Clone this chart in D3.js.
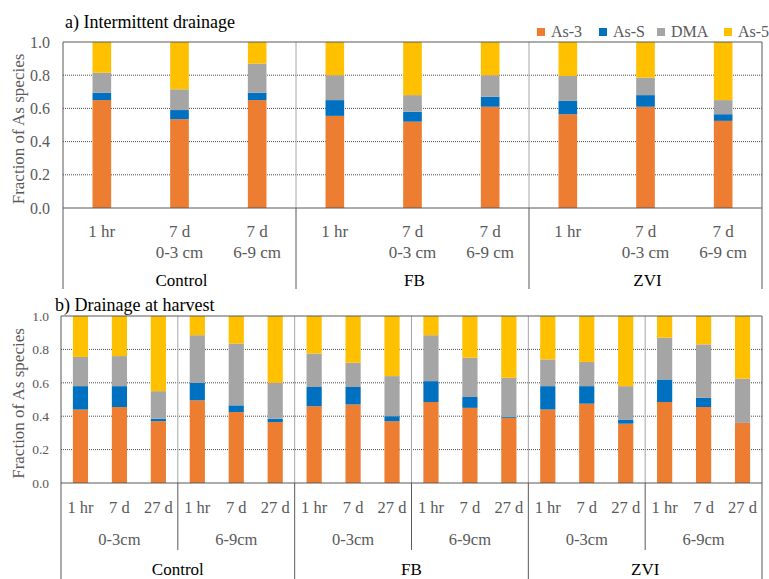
<!DOCTYPE html>
<html>
<head>
<meta charset="utf-8">
<script src="https://cdn.jsdelivr.net/npm/d3@7/dist/d3.min.js"></script>
<style>
  body { margin: 0; background: #fff; }
  svg text { font-family: 'Liberation Serif', 'DejaVu Serif', 'Noto Serif', serif; }
</style>
</head>
<body>
<svg id="chart" width="769" height="579"></svg>
<script>
// ---- Species and colours ----
const speciesKeys = ["As-3", "As-S", "DMA", "As-5"];
const speciesColors = ["#ED7D31", "#0070C0", "#A5A5A5", "#FFC000"];
const yTicks = [0, 0.2, 0.4, 0.6, 0.8, 1.0];
const treatments = ["Control", "FB", "ZVI"];

// ---- a) Intermittent drainage: 3 samples per treatment ----
const sampleTimeA = ["1 hr", "7 d", "7 d"];
const sampleDepthA = ["", "0-3 cm", "6-9 cm"];
const as3A = [0.65, 0.535, 0.65, 0.555, 0.52, 0.61, 0.565, 0.61, 0.525];
const asSA = [0.045, 0.055, 0.045, 0.095, 0.06, 0.06, 0.08, 0.07, 0.04];
const dmaA = [0.12, 0.125, 0.175, 0.15, 0.10, 0.13, 0.15, 0.105, 0.085];
const as5A = [0.185, 0.285, 0.13, 0.20, 0.32, 0.20, 0.205, 0.215, 0.35];

// ---- b) Drainage at harvest: 2 depths x 3 times per treatment ----
const depthsB = ["0-3cm", "6-9cm"];
const timesB = ["1 hr", "7 d", "27 d"];
const as3B = [0.44, 0.455, 0.37, 0.495, 0.425, 0.365,
              0.46, 0.47, 0.37, 0.485, 0.45, 0.39,
              0.44, 0.475, 0.355, 0.485, 0.455, 0.36];
const asSB = [0.14, 0.125, 0.015, 0.105, 0.04, 0.02,
              0.115, 0.105, 0.03, 0.125, 0.065, 0.005,
              0.14, 0.105, 0.025, 0.135, 0.055, 0.0];
const dmaB = [0.175, 0.18, 0.165, 0.285, 0.37, 0.215,
              0.20, 0.145, 0.24, 0.275, 0.235, 0.235,
              0.16, 0.145, 0.20, 0.25, 0.32, 0.265];
const as5B = [0.245, 0.24, 0.45, 0.115, 0.165, 0.40,
              0.225, 0.28, 0.36, 0.115, 0.25, 0.37,
              0.26, 0.275, 0.42, 0.13, 0.17, 0.375];

const svg = d3.select("#chart");
const color = d3.scaleOrdinal().domain(speciesKeys).range(speciesColors);
const stack = d3.stack().keys(speciesKeys);

const FONT = "'Liberation Serif', 'DejaVu Serif', 'Noto Serif', serif";
const FRAME = "#595959";
const INNER = "#a6a6a6";
const TEXT = "#595959";

function row(vals, i) {
  return { "As-3": vals[0][i], "As-S": vals[1][i], "DMA": vals[2][i], "As-5": vals[3][i] };
}

function drawPanel(cfg) {
  const g = svg.append("g");
  const y = d3.scaleLinear().domain([0, 1]).range([cfg.bottom, cfg.top]);

  // dotted gridlines
  g.append("g").selectAll("line")
    .data(yTicks.filter(v => v > 0 && v < 1))
    .join("line")
    .attr("x1", cfg.left).attr("x2", cfg.right)
    .attr("y1", d => y(d)).attr("y2", d => y(d))
    .attr("stroke", "#4d4d4d").attr("stroke-width", 1)
    .attr("stroke-dasharray", "1,1");

  // y axis labels
  const ax = g.append("g")
    .attr("transform", `translate(${cfg.left},0)`)
    .call(d3.axisLeft(y).tickValues(yTicks).tickFormat(d3.format(".1f"))
      .tickSize(0).tickPadding(cfg.tickPad));
  ax.attr("font-family", FONT);
  ax.select(".domain").remove();
  ax.selectAll("text")
    .attr("fill", TEXT)
    .style("font-family", FONT)
    .style("font-size", cfg.tickFont + "px");

  // y axis title
  g.append("text")
    .attr("transform", `translate(24,${(cfg.top + cfg.bottom) / 2 + 4}) rotate(-90)`)
    .attr("text-anchor", "middle")
    .attr("fill", TEXT)
    .style("font-family", FONT)
    .style("font-size", "17px")
    .text("Fraction of As species");

  // panel title
  g.append("text")
    .attr("x", cfg.titleX).attr("y", cfg.titleY)
    .attr("fill", "#000")
    .style("font-family", FONT)
    .style("font-size", "18px")
    .text(cfg.title);

  // stacked bars
  const series = stack(cfg.rows);
  g.append("g").selectAll("g")
    .data(series)
    .join("g")
    .attr("fill", d => color(d.key))
    .selectAll("rect")
    .data(d => d)
    .join("rect")
    .attr("x", d => d.data.x)
    .attr("width", cfg.barWidth)
    .attr("y", d => y(d[1]))
    .attr("height", d => Math.max(0, y(d[0]) - y(d[1])));

  // separators and frame
  cfg.separators.forEach(s => {
    g.append("line")
      .attr("x1", s.x).attr("x2", s.x)
      .attr("y1", cfg.top).attr("y2", cfg.bottom)
      .attr("stroke", s.frame ? FRAME : INNER).attr("stroke-width", 1);
    g.append("line")
      .attr("x1", s.x).attr("x2", s.x)
      .attr("y1", cfg.bottom).attr("y2", s.y2)
      .attr("stroke", FRAME).attr("stroke-width", 1);
  });
  g.append("line")
    .attr("x1", cfg.left).attr("x2", cfg.right)
    .attr("y1", y(1)).attr("y2", y(1))
    .attr("stroke", FRAME);
  g.append("line")
    .attr("x1", cfg.left).attr("x2", cfg.right)
    .attr("y1", y(0)).attr("y2", y(0))
    .attr("stroke", FRAME);

  // category labels
  g.append("g").selectAll("text")
    .data(cfg.labels)
    .join("text")
    .attr("x", d => d.x).attr("y", d => d.y)
    .attr("text-anchor", "middle")
    .attr("fill", d => d.color || TEXT)
    .style("font-family", FONT)
    .style("font-size", d => d.size + "px")
    .text(d => d.text);
}

// ---- Panel a ----
(function () {
  const left = 63, right = 762, top = 42, bottom = 208;
  const xGroup = d3.scaleBand().domain(treatments).range([left, right]);
  const xSample = d3.scaleBand().domain(d3.range(sampleTimeA.length))
    .range([0, xGroup.bandwidth()]).paddingInner(0.76).paddingOuter(0.38);
  const vals = [as3A, asSA, dmaA, as5A];
  const rows = [];
  const labels = [];
  treatments.forEach((t, ti) => {
    sampleTimeA.forEach((s, si) => {
      const i = ti * sampleTimeA.length + si;
      const r = row(vals, i);
      r.x = xGroup(t) + xSample(si);
      rows.push(r);
      const cx = r.x + xSample.bandwidth() / 2;
      labels.push({ text: s, x: cx, y: 237, size: 17 });
      if (sampleDepthA[si]) labels.push({ text: sampleDepthA[si], x: cx, y: 258, size: 17 });
    });
    labels.push({ text: t, x: xGroup(t) + xGroup.bandwidth() / 2 + 2, y: 286, size: 17, color: "#000" });
  });
  const separators = [{ x: left, y2: 289, frame: true }];
  treatments.slice(1).forEach(t => separators.push({ x: xGroup(t), y2: 289 }));
  separators.push({ x: right, y2: 289, frame: true });
  drawPanel({
    left, right, top, bottom, rows, labels, separators,
    barWidth: xSample.bandwidth(), tickPad: 13, tickFont: 16,
    title: "a) Intermittent drainage", titleX: 65, titleY: 28
  });
})();

// ---- Panel b ----
(function () {
  const left = 61, right = 762, top = 316, bottom = 483;
  const xGroup = d3.scaleBand().domain(treatments).range([left, right]);
  const xDepth = d3.scaleBand().domain(depthsB).range([0, xGroup.bandwidth()]);
  const xTime = d3.scaleBand().domain(timesB)
    .range([0, xDepth.bandwidth()]).paddingInner(0.61).paddingOuter(0.305);
  const vals = [as3B, asSB, dmaB, as5B];
  const rows = [];
  const labels = [];
  const separators = [{ x: left, y2: 579, frame: true }];
  treatments.forEach((t, ti) => {
    depthsB.forEach((dep, di) => {
      timesB.forEach((tm, mi) => {
        const i = (ti * depthsB.length + di) * timesB.length + mi;
        const r = row(vals, i);
        r.x = xGroup(t) + xDepth(dep) + xTime(tm);
        rows.push(r);
        labels.push({ text: tm, x: r.x + xTime.bandwidth() / 2, y: 513, size: 16.5 });
      });
      labels.push({ text: dep, x: xGroup(t) + xDepth(dep) + xDepth.bandwidth() / 2, y: 545, size: 16.5 });
      if (di > 0) separators.push({ x: xGroup(t) + xDepth(dep), y2: 550 });
    });
    labels.push({ text: t, x: xGroup(t) + xGroup.bandwidth() / 2, y: 575, size: 17, color: "#000" });
    if (ti > 0) separators.push({ x: xGroup(t), y2: 579 });
  });
  separators.push({ x: right, y2: 579, frame: true });
  drawPanel({
    left, right, top, bottom, rows, labels, separators,
    barWidth: xTime.bandwidth(), tickPad: 12, tickFont: 13.5,
    title: "b) Drainage at harvest", titleX: 55, titleY: 311
  });
})();

// ---- Legend (top right, one row) ----
(function () {
  const itemOffsets = [0, 62, 120, 187];
  const lg = svg.append("g").attr("transform", "translate(537,0)");
  const items = lg.selectAll("g")
    .data(speciesKeys)
    .join("g")
    .attr("transform", (d, i) => `translate(${itemOffsets[i]},0)`);
  items.append("rect")
    .attr("x", 0).attr("y", 28).attr("width", 8).attr("height", 8)
    .attr("fill", d => color(d));
  items.append("text")
    .attr("x", 14).attr("y", 37)
    .attr("fill", TEXT)
    .style("font-family", FONT)
    .style("font-size", "16px")
    .text(d => d);
})();
</script>
</body>
</html>
